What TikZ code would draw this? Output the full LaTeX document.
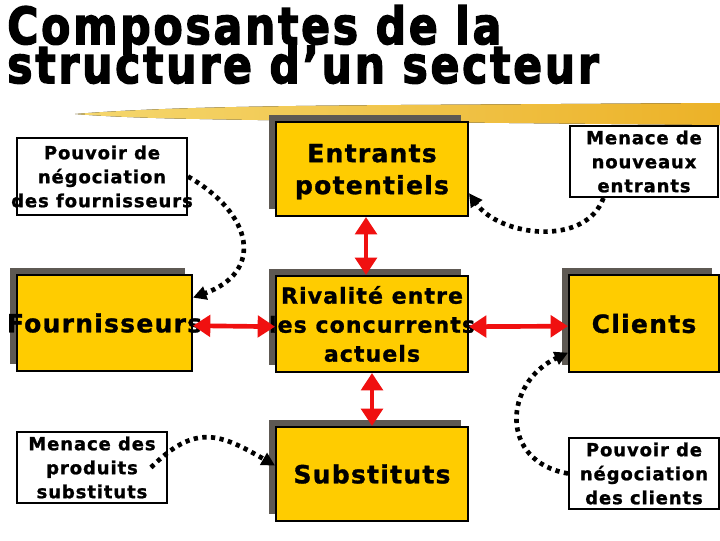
\documentclass[tikz,border=0pt]{standalone}
\usepackage{fontspec}
\setmainfont{DejaVu Sans}
\newfontfamily\titlefont[LetterSpace=6.5,FakeBold=3]{DejaVu Sans}
\newfontfamily\boxfont[LetterSpace=5,FakeBold=1.2]{DejaVu Sans}
\usetikzlibrary{arrows.meta,shadows}
\definecolor{boxyellow}{RGB}{255,204,0}
\definecolor{shadowc}{RGB}{94,89,83}
\definecolor{arrowred}{RGB}{240,16,16}
\definecolor{brushA}{RGB}{245,215,110}
\definecolor{brushB}{RGB}{236,178,40}
\begin{document}
\begin{tikzpicture}[x=0.75pt,y=0.75pt,
  ybox/.style={draw=black, line width=1.5pt, fill=boxyellow, inner sep=0pt,
    general shadow={fill=shadowc, shadow xshift=-5.25pt, shadow yshift=5.25pt}},
  wbox/.style={draw=black, line width=1.5pt, fill=white, inner sep=0pt},
  titletext/.style={font=\titlefont\bfseries\fontsize{31.9}{30}\selectfont, inner sep=0pt, anchor=base west},
  smalltext/.style={font=\boxfont\bfseries\fontsize{13.5}{18}\selectfont, align=center, inner sep=0pt},
  bigtext/.style={font=\boxfont\bfseries\fontsize{18.75}{24}\selectfont, align=center, inner sep=0pt},
  midtext/.style={font=\boxfont\bfseries\fontsize{16.5}{21.75}\selectfont, align=center, inner sep=0pt},
  redarrow/.style={draw=arrowred, line width=3.5pt, {Triangle[length=13pt,width=16pt]}-{Triangle[length=13pt,width=16pt]}},
  dotarrow/.style={draw=black, line width=3.5pt, dash pattern=on 3.2pt off 3.3pt, -{Triangle[length=10pt,width=10pt]}}
]
\useasboundingbox (0,0) rectangle (720,-540);
\fill[white] (0,0) rectangle (720,-540);

% brush stroke
\fill[left color=brushA, right color=brushB]
  (75,-114) .. controls (150,-108) and (250,-106) .. (400,-105) -- (720,-103)
  -- (720,-125) .. controls (500,-123) and (300,-121) .. (200,-119)
  .. controls (140,-118) and (100,-116) .. cycle;

% title
\node[titletext] (t1) at (7,-44) {\scalebox{1}[1.2]{Composantes de la}};
\node[titletext] (t2) at (7,-83) {\scalebox{1}[1.2]{structure d’un secteur}};

% boxes
\node[wbox, minimum width=127.5pt, minimum height=57.75pt] (pf) at (102,-176.5) {};
\node[ybox, minimum width=144pt, minimum height=70.5pt] (ent) at (372,-169) {};
\node[wbox, minimum width=111pt, minimum height=53.25pt] (mne) at (644,-161.5) {};
\node[ybox, minimum width=131.25pt, minimum height=72pt] (four) at (104.5,-323) {};
\node[ybox, minimum width=144pt, minimum height=72pt] (riv) at (372,-324) {};
\node[ybox, minimum width=112.5pt, minimum height=72.75pt] (cli) at (644,-323.5) {};
\node[wbox, minimum width=112.5pt, minimum height=53.25pt] (mps) at (92,-467.5) {};
\node[ybox, minimum width=144pt, minimum height=70.5pt] (sub) at (372,-474) {};
\node[wbox, minimum width=112.5pt, minimum height=53.25pt] (pcl) at (644,-473.5) {};

% texts
\node[smalltext] (pfT) at (pf.center) {Pouvoir de\\négociation\\des fournisseurs};
\node[bigtext, text depth=0pt] (entT) at (ent.center) {Entrants\\potentiels};
\node[smalltext] (mneT) at (mne.center) {Menace de\\nouveaux\\entrants};
\node[bigtext] (fourT) at (four.center) {Fournisseurs};
\node[midtext] (rivT) at (riv.center) {Rivalité entre\\les concurrents\\actuels};
\node[bigtext] (cliT) at (cli.center) {Clients};
\node[smalltext] (mpsT) at (mps.center) {Menace des\\produits\\substituts};
\node[bigtext] (subT) at (sub.center) {Substituts};
\node[smalltext] (pclT) at (pcl.center) {Pouvoir de\\négociation\\des clients};

% red arrows
\draw[redarrow] ([xshift=-4.5pt]ent.south) -- ([xshift=-4.5pt]riv.north);
\draw[redarrow] (riv.south) -- (sub.north);
\draw[redarrow] ([yshift=-2pt]four.east) -- ([yshift=-2pt]riv.west);
\draw[redarrow] ([yshift=-2pt]riv.east) -- ([yshift=-2pt]cli.west);

% dotted arrows
\draw[dotarrow] (pf.east) to[out=-30,in=20,looseness=1.6] (four.16);
\draw[dotarrow] (mne.222) to[out=-110,in=-55] (ent.-14);
\draw[dotarrow] ([xshift=-12.75pt]mps.east) to[out=45,in=150,looseness=1.3] (sub.175);
\draw[dotarrow] (pcl.west) to[out=170,in=205,looseness=1.5] (cli.201);
\end{tikzpicture}
\end{document}
